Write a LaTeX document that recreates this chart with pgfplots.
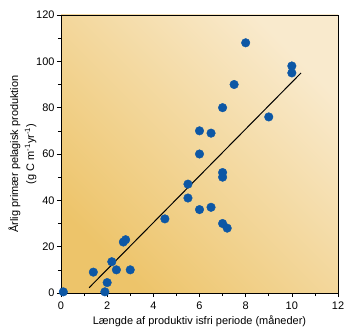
\documentclass[border=0pt]{standalone}
\usepackage{pgfplots}
\pgfplotsset{compat=1.18}
\usepackage{fontspec}
\setmainfont{Liberation Sans}
\definecolor{bgdark}{HTML}{EDC46A}
\definecolor{bglight}{HTML}{F9EACD}
\definecolor{dotblue}{HTML}{0D57A5}
\begin{document}
\begin{tikzpicture}
\begin{axis}[
  scale only axis,
  width=277bp, height=278bp,
  xmin=0, xmax=12, ymin=0, ymax=120,
  xtick={0,2,...,12}, ytick={0,20,...,120},
  minor x tick num=1, minor y tick num=1,
  tick pos=left, tick align=outside,
  major tick length=4bp, minor tick length=3bp,
  tick style={black, line width=0.6pt},
  axis line style={black, line width=0.8pt},
  clip=false,
  axis background/.style={shade, left color=bglight, right color=bgdark, shading angle=-45},
  /pgf/number format/assume math mode=true,
  tick label style={font=\fontsize{11}{13}\selectfont},
  xticklabel style={yshift=-1bp},
  yticklabel style={xshift=1bp},
  label style={font=\fontsize{11}{16}\selectfont},
  xlabel={Længde af produktiv isfri periode (måneder)},
  ylabel={Årlig primær pelagisk produktion\\(g C m\textsuperscript{-1}yr\textsuperscript{-1})},
  ylabel style={align=center, yshift=-7bp},
  xlabel style={yshift=0bp},
]
\addplot[only marks, mark=*, mark size=4.3bp, mark options={fill=dotblue, draw=dotblue}] coordinates {
(0.1,0.5) (1.4,9) (1.9,0.5) (2.0,4.5) (2.2,13.5) (2.4,10) (2.7,22) (2.8,23) (3.0,10)
(4.5,32) (5.5,47) (5.5,41) (6.0,70) (6.0,60) (6.0,36) (6.5,69) (6.5,37)
(7.0,80) (7.0,52) (7.0,50) (7.0,30) (7.2,28) (7.5,90) (8.0,108) (9.0,76)
(10.0,98) (10.0,95)
};
\addplot[black, line width=1pt] coordinates {(1.22,2.3) (10.4,95)};
\end{axis}
\pgfresetboundingbox
\path (current axis.south west) ++(-61bp,-34bp) rectangle ([xshift=6bp,yshift=15bp]current axis.north east);
\end{tikzpicture}
\end{document}
